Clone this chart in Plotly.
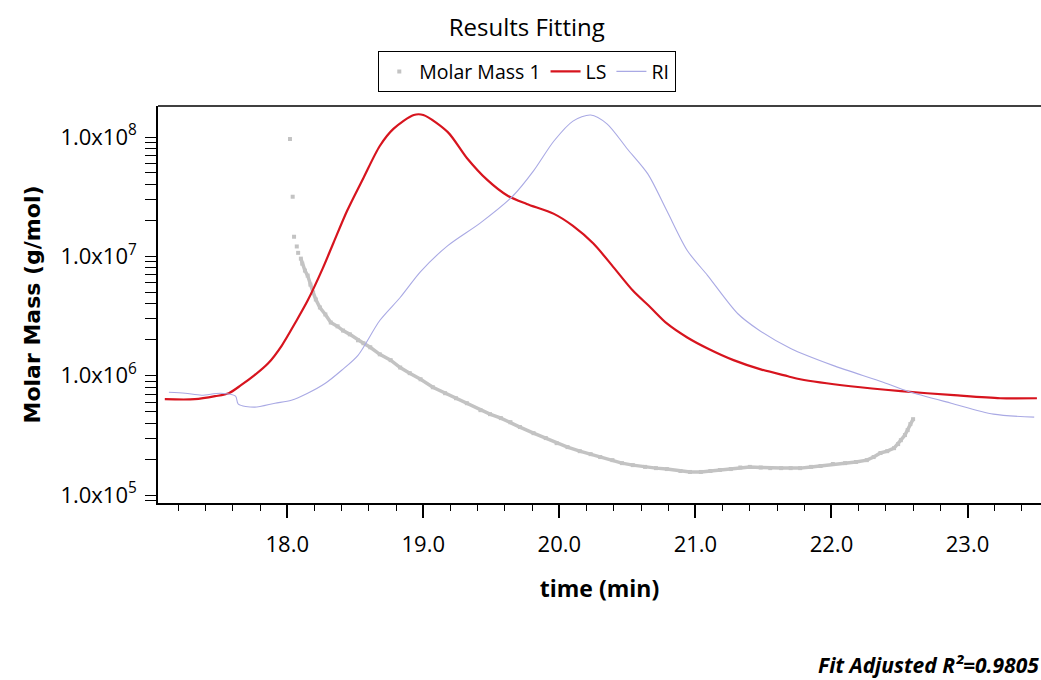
import plotly.graph_objects as go

# ---- data ----
ls_t = [17.10, 17.32, 17.47, 17.57, 17.66, 17.76, 17.86, 17.96, 18.06, 18.15, 18.26, 18.34, 18.44,
        18.56, 18.68, 18.78, 18.93, 19.00, 19.18, 19.32, 19.47, 19.62, 19.76, 19.96, 20.10, 20.25,
        20.40, 20.54, 20.67, 20.79, 20.94, 21.09, 21.28, 21.48, 21.68, 21.77, 22.14, 22.51, 22.90,
        23.24, 23.51]
ls_mm = [6.35e5, 6.35e5, 6.73e5, 7.13e5, 8.32e5, 1.01e6, 1.27e6, 1.79e6, 2.79e6, 4.26e6, 7.89e6,
         1.30e7, 2.41e7, 4.54e7, 8.41e7, 1.17e8, 1.53e8, 1.53e8, 1.10e8, 6.68e7, 4.37e7, 3.22e7,
         2.75e7, 2.27e7, 1.80e7, 1.28e7, 8.05e6, 5.17e6, 3.73e6, 2.74e6, 2.09e6, 1.69e6, 1.35e6,
         1.13e6, 9.89e5, 9.33e5, 8.15e5, 7.41e5, 6.86e5, 6.47e5, 6.47e5]

ri_t = [17.13, 17.25, 17.37, 17.51, 17.62, 17.64, 17.76, 17.91, 18.03, 18.15, 18.28, 18.40, 18.52,
        18.68, 18.83, 18.98, 19.18, 19.42, 19.66, 19.81, 19.96, 20.10, 20.23, 20.35, 20.50, 20.65,
        20.79, 20.94, 21.09, 21.31, 21.46, 21.70, 22.01, 22.38, 22.56, 22.88, 23.19, 23.49]
ri_mm = [7.26e5, 7.13e5, 6.86e5, 7.13e5, 6.73e5, 5.77e5, 5.45e5, 5.88e5, 6.23e5, 7.13e5, 8.64e5,
         1.11e6, 1.48e6, 2.90e6, 4.52e6, 7.45e6, 1.23e7, 1.91e7, 3.22e7, 5.20e7, 9.26e7, 1.36e8,
         1.53e8, 1.29e8, 7.94e7, 4.91e7, 2.41e7, 1.12e7, 6.90e6, 3.32e6, 2.44e6, 1.69e6, 1.22e6,
         8.81e5, 7.41e5, 5.88e5, 4.76e5, 4.49e5]

mm1_t = [18.02, 18.04, 18.05, 18.07, 18.08, 18.10, 18.11, 18.13, 18.15, 18.17, 18.19, 18.21, 18.24,
         18.28, 18.32, 18.37, 18.41, 18.46, 18.52, 18.56, 18.61, 18.68, 18.76, 18.83, 18.90, 18.98,
         19.07, 19.16, 19.24, 19.32, 19.42, 19.49, 19.57, 19.64, 19.71, 19.81, 19.90, 19.98, 20.06,
         20.15, 20.23, 20.30, 20.39, 20.46, 20.54, 20.63, 20.71, 20.79, 20.89, 20.96, 21.04, 21.11,
         21.18, 21.26, 21.33, 21.40, 21.48, 21.55, 21.63, 21.70, 21.77, 21.85, 21.92, 22.01, 22.10,
         22.18, 22.26, 22.31, 22.36, 22.41, 22.46, 22.49, 22.51, 22.54, 22.56, 22.58, 22.60]
mm1_mm = [9.62e7, 3.16e7, 1.46e7, 1.21e7, 1.07e7, 9.57e6, 8.69e6, 7.60e6, 6.90e6, 5.80e6, 4.98e6,
          4.35e6, 3.73e6, 3.26e6, 2.79e6, 2.59e6, 2.39e6, 2.22e6, 1.98e6, 1.87e6, 1.73e6, 1.51e6,
          1.35e6, 1.17e6, 1.05e6, 9.33e5, 8.00e5, 7.13e5, 6.47e5, 5.88e5, 5.14e5, 4.76e5, 4.41e5,
          4.08e5, 3.71e5, 3.30e5, 3.00e5, 2.72e5, 2.52e5, 2.33e5, 2.20e5, 2.08e5, 1.96e5, 1.85e5,
          1.78e5, 1.72e5, 1.68e5, 1.65e5, 1.59e5, 1.56e5, 1.56e5, 1.59e5, 1.62e5, 1.65e5, 1.70e5,
          1.72e5, 1.70e5, 1.68e5, 1.68e5, 1.68e5, 1.68e5, 1.72e5, 1.75e5, 1.82e5, 1.85e5, 1.89e5,
          1.96e5, 2.08e5, 2.25e5, 2.33e5, 2.47e5, 2.67e5, 2.88e5, 3.18e5, 3.50e5, 3.93e5, 4.32e5]

y_tickvals = [1e5, 1e6, 1e7, 1e8]
y_ticktext = ["1.0x10<sup>5</sup>", "1.0x10<sup>6</sup>", "1.0x10<sup>7</sup>", "1.0x10<sup>8</sup>"]
y_minor = [9e4] + [k * 10 ** e for e in (5, 6, 7) for k in range(2, 10)]

GRAY = "#c3c3c3"
RED = "#d7141e"
LAV = "#a9a9e4"
FONT = "Open Sans"

fig = go.Figure()
fig.add_trace(go.Scatter(x=mm1_t[5:], y=mm1_mm[5:], mode="lines", showlegend=False,
                         line=dict(color=GRAY, width=3.5), hoverinfo="skip"))
fig.add_trace(go.Scatter(x=mm1_t, y=mm1_mm, mode="markers", name="Molar Mass 1",
                         marker=dict(color=GRAY, size=4, symbol="square")))
fig.add_trace(go.Scatter(x=ls_t, y=ls_mm, mode="lines", name="LS",
                         line=dict(color=RED, width=2.2, shape="spline", smoothing=0.8)))
fig.add_trace(go.Scatter(x=ri_t, y=ri_mm, mode="lines", name="RI",
                         line=dict(color=LAV, width=1.1, shape="spline", smoothing=0.8)))

fig.update_layout(
    width=1041, height=680,
    margin=dict(l=158, r=0, t=106, b=177),
    paper_bgcolor="white", plot_bgcolor="white",
    font=dict(family=FONT, color="black", size=18),
    title=dict(text="Results Fitting", x=0.506, xanchor="center", y=0.96, yanchor="middle",
               font=dict(family=FONT, size=24, color="black")),
    legend=dict(orientation="h", x=0.418, xanchor="center", y=0.925, yref="container",
                yanchor="top", bordercolor="black", borderwidth=1.2,
                font=dict(family=FONT, size=19.5), itemwidth=30, tracegroupgap=0),
    showlegend=True,
)

fig.update_xaxes(
    range=[17.05, 23.54], showgrid=False, zeroline=False,
    showline=True, linecolor="black", linewidth=1.5, mirror=False,
    ticks="outside", ticklen=13, tickwidth=1.5, tickcolor="black",
    tick0=18, dtick=1, tickformat=".1f", tickfont=dict(family=FONT, size=22),
    ticklabelstandoff=8,
    minor=dict(ticks="outside", ticklen=6, tickwidth=1.2, tickcolor="black", dtick=0.2, tick0=18),
    title=dict(text="<b>time (min)</b>", font=dict(family=FONT, size=23), standoff=24),
)
fig.update_yaxes(
    type="log", range=[4.933, 8.26], showgrid=False, zeroline=False,
    showline=True, linecolor="black", linewidth=1.5,
    ticks="outside", ticklen=11, tickwidth=1.2, tickcolor="black",
    tickmode="array", tickvals=y_tickvals, ticktext=y_ticktext,
    tickfont=dict(family=FONT, size=22), ticklabelstandoff=4,
    minor=dict(ticks="outside", ticklen=11, tickwidth=1.2, tickcolor="black",
               tickmode="array", tickvals=y_minor),
    title=dict(text="<b>Molar Mass (g/mol)</b>", font=dict(family="DejaVu Sans", size=22),
               standoff=14),
)
# top border line of the frame
fig.add_shape(type="line", xref="paper", yref="paper", x0=0, x1=1, y0=1, y1=1,
              line=dict(color="black", width=1.5))

fig.add_annotation(text="<b><i>Fit Adjusted R²=0.9805</i></b>", xref="paper", yref="paper",
                   x=1.0, xanchor="right", y=-0.408, yanchor="middle", showarrow=False,
                   font=dict(family=FONT, size=21, color="black"))

fig.write_html("out.html")
